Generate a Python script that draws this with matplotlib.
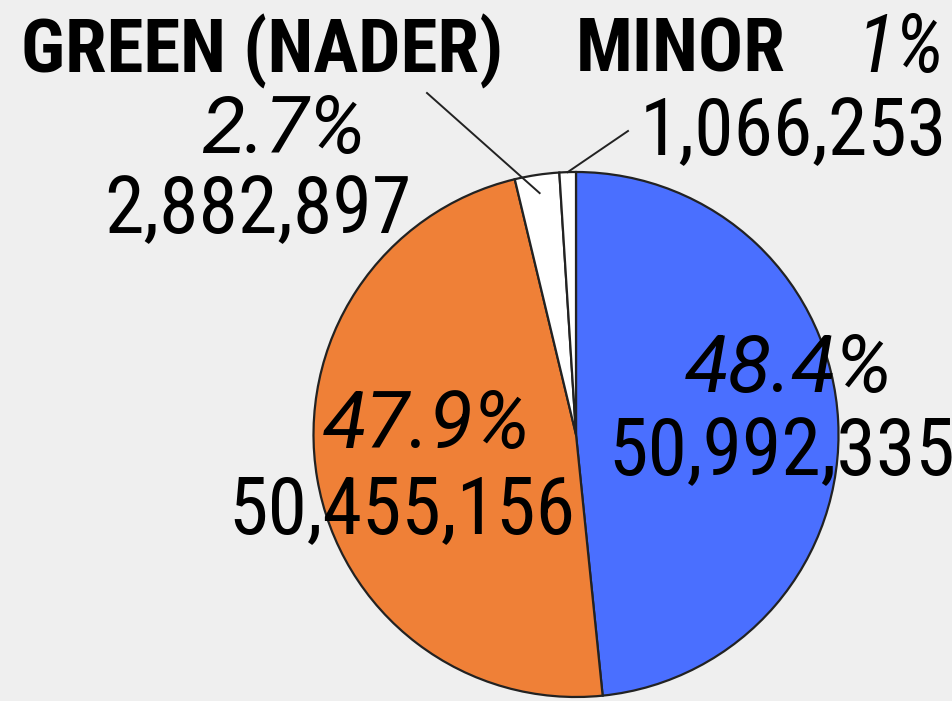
import math
import matplotlib
matplotlib.use("Agg")
import matplotlib.pyplot as plt

# 2000 US presidential popular vote
parties = ["Gore", "Bush", "Green (Nader)", "Minor"]
votes = [50992335, 50455156, 2882897, 1066253]
shares = [48.4, 47.9, 2.7, 1.0]
colors = ["#4a6fff", "#ef8037", "#ffffff", "#ffffff"]

W, H = 953, 701
bg = "#efefef"
fam = ["Roboto Condensed", "DejaVu Sans"]
fam_pct = ["Roboto", "DejaVu Sans"]

fig = plt.figure(figsize=(W / 100, H / 100), dpi=100, facecolor=bg)
ax = fig.add_axes([0, 0, 1, 1])
ax.set_facecolor(bg)

cx, cy, r = 576, H - 434.5, 262.5
wedges, _ = ax.pie(votes, colors=colors, startangle=90, counterclock=False,
                   center=(cx, cy), radius=r,
                   wedgeprops=dict(edgecolor="#222222", linewidth=1.6))
ax.set_xlim(0, W)
ax.set_ylim(0, H)
ax.set_aspect("equal")
ax.axis("off")


def Y(y):
    return H - y


def txt(x, y, s, size=57.5, family=fam, **kw):
    ax.text(x, Y(y), s, fontsize=size, family=family, ha="left", va="baseline",
            color="black", **kw)


def fmt(v):
    return f"{v:,}"


def pct(p):
    return f"{p:g}%"


# big slice labels
txt(685, 392, pct(shares[0]), family=fam_pct, style="italic")
txt(608, 475, fmt(votes[0]))
txt(323, 448, pct(shares[1]), family=fam_pct, style="italic")
txt(228, 533, fmt(votes[1]))

# small slice labels
txt(21, 72, "GREEN (NADER)", size=54, weight="bold")
txt(201, 153, pct(shares[2]), family=fam_pct, style="italic")
txt(104, 233, fmt(votes[2]))

txt(576, 72, "MINOR", size=54, weight="bold")
txt(857, 72, "1%", size=58, style="italic")
txt(640, 155, fmt(votes[3]))

# leader lines into the small wedges
for w, frac, start in [(wedges[2], 0.93, (427, 93)), (wedges[3], 1.0, (628, 131))]:
    ang = math.radians((w.theta1 + w.theta2) / 2)
    end = (cx + r * frac * math.cos(ang), cy + r * frac * math.sin(ang))
    ax.plot([start[0], end[0]], [Y(start[1]), end[1]], color="#222222", lw=1.4)

fig.savefig("out.png", dpi=100, facecolor=bg)
